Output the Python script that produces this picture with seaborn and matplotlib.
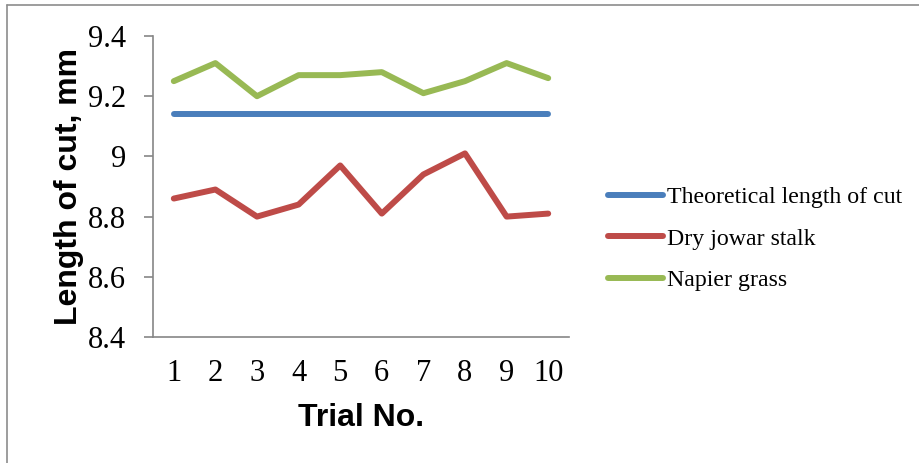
import matplotlib
matplotlib.use("Agg")
import matplotlib.pyplot as plt
from matplotlib.lines import Line2D
import seaborn as sns
import pandas as pd

trials = [1, 2, 3, 4, 5, 6, 7, 8, 9, 10]
theoretical = [9.14] * 10
dry_jowar = [8.86, 8.89, 8.80, 8.84, 8.97, 8.81, 8.94, 9.01, 8.80, 8.81]
napier = [9.25, 9.31, 9.20, 9.27, 9.27, 9.28, 9.21, 9.25, 9.31, 9.26]
series_names = ["Theoretical length of cut", "Dry jowar stalk", "Napier grass"]
y_ticks = [8.4, 8.6, 8.8, 9.0, 9.2, 9.4]
y_tick_labels = ["8.4", "8.6", "8.8", "9", "9.2", "9.4"]

colors = ["#4A7EBB", "#BE4B48", "#98B954"]

df = pd.DataFrame({
    "Trial": trials * 3,
    "Length": theoretical + dry_jowar + napier,
    "Series": [series_names[0]] * 10 + [series_names[1]] * 10 + [series_names[2]] * 10,
})

sns.set_style("white")
plt.rcParams["font.family"] = ["Liberation Serif", "DejaVu Serif"]
plt.rcParams["text.color"] = "black"
plt.rcParams["axes.labelcolor"] = "black"

fig = plt.figure(figsize=(9.19, 4.63), dpi=100)
ax = fig.add_axes([153 / 919, 1 - 337 / 463, (569 - 153) / 919, (337 - 36) / 463])

sns.lineplot(data=df, x="Trial", y="Length", hue="Series", palette=colors,
             linewidth=4.3, ax=ax, legend=True)
for ln in ax.lines:
    ln.set_solid_capstyle("round")

ax.set_xlim(0.5, 10.5)
ax.set_ylim(8.4, 9.4)
ax.set_xticks(trials)
ax.set_xticklabels([str(t) for t in trials], fontsize=22)
ax.set_yticks(y_ticks)
ax.set_yticklabels(y_tick_labels, fontsize=22)

grey = "#868686"
for side in ["top", "right"]:
    ax.spines[side].set_visible(False)
for side in ["left", "bottom"]:
    ax.spines[side].set_color(grey)
    ax.spines[side].set_linewidth(1.2)
ax.tick_params(axis="y", direction="out", length=6.5, width=1.2, color=grey,
               pad=13, left=True, labelcolor="black")
ax.tick_params(axis="x", length=0, pad=16, labelcolor="black")

ax.set_xlabel("Trial No.", fontsize=23, fontweight="bold", color="black",
              family=["Liberation Sans", "DejaVu Sans"], labelpad=11)
ax.set_ylabel("Length of cut, mm", fontsize=23, fontweight="bold", color="black",
              family=["Liberation Sans", "DejaVu Sans"], labelpad=3)

handles, labels = ax.get_legend_handles_labels()
leg = ax.legend(handles, labels, loc="center left", bbox_to_anchor=(1.07, 0.326),
                frameon=False, fontsize=17.2, handlelength=2.3, handletextpad=0.2,
                labelspacing=0.82, borderaxespad=0)
for h in leg.legend_handles:
    h.set_linewidth(4.3)
    h.set_solid_capstyle("round")
for t in leg.get_texts():
    t.set_color("black")

# outer frame of the figure
fig.add_artist(Line2D([7 / 919, 1], [1 - 5 / 463, 1 - 5 / 463], color="#8c8c8c",
                      linewidth=1.2, transform=fig.transFigure))
fig.add_artist(Line2D([7 / 919, 7 / 919], [0, 1 - 5 / 463], color="#8c8c8c",
                      linewidth=1.2, transform=fig.transFigure))

fig.savefig("out.png", dpi=100)
